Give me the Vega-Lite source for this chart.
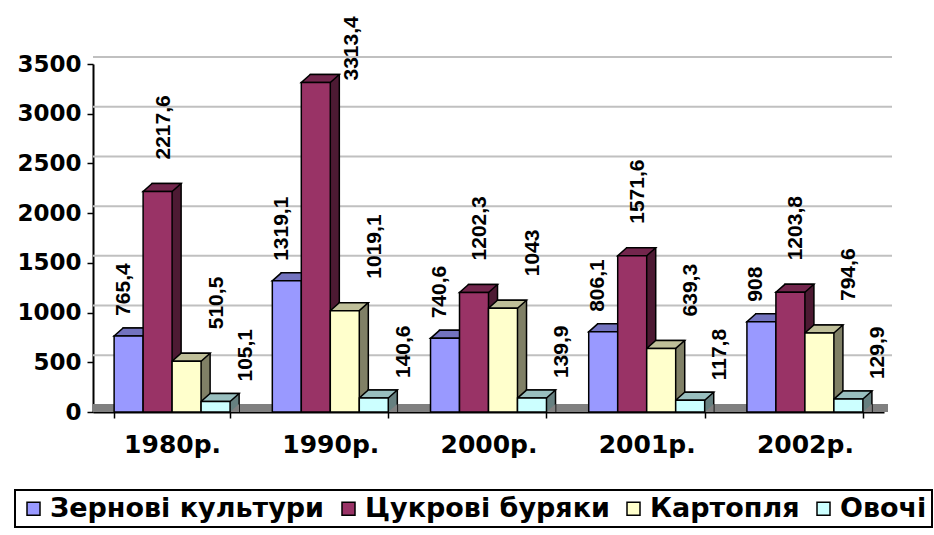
{
  "$schema": "https://vega.github.io/schema/vega-lite/v6.json",
  "width": 791,
  "height": 348,
  "autosize": {"type": "none"},
  "padding": {"left": 93, "top": 64, "right": 50, "bottom": 123},
  "background": "white",
  "config": {
    "view": {"stroke": null},
    "locale": {"number": {"decimal": ",", "thousands": "", "grouping": [3], "currency": ["", ""]}},
    "axis": {"grid": false, "title": null, "labelColor": "black", "tickColor": "black", "tickWidth": 1.5, "tickSize": 6, "domainColor": "black", "domainWidth": 2, "labelFont": "DejaVu Sans", "labelFontWeight": "bold"},
    "axisX": {"labelAngle": 0, "labelFontSize": 25, "tickBand": "extent", "labelPadding": 14},
    "axisY": {"labelFontSize": 23, "labelPadding": 6, "tickCount": 8},
    "legend": {
      "orient": "none", "legendX": -78, "legendY": 426, "direction": "horizontal", "columns": 4,
      "strokeColor": "black", "strokeWidth": 2, "padding": 5, "fillColor": "white",
      "labelFont": "DejaVu Sans", "labelFontWeight": "bold", "labelFontSize": 27, "labelColor": "black",
      "symbolType": "square", "symbolSize": 169, "symbolStrokeColor": "black", "symbolStrokeWidth": 1.5,
      "labelOffset": 3, "columnPadding": 10, "title": null, "labelLimit": 400
    }
  },
  "datasets": {
    "d": [
      {"year": "1980р.", "crop": "Зернові культури", "v": 765.4},
      {"year": "1980р.", "crop": "Цукрові буряки", "v": 2217.6},
      {"year": "1980р.", "crop": "Картопля", "v": 510.5},
      {"year": "1980р.", "crop": "Овочі", "v": 105.1},
      {"year": "1990р.", "crop": "Зернові культури", "v": 1319.1},
      {"year": "1990р.", "crop": "Цукрові буряки", "v": 3313.4},
      {"year": "1990р.", "crop": "Картопля", "v": 1019.1},
      {"year": "1990р.", "crop": "Овочі", "v": 140.6},
      {"year": "2000р.", "crop": "Зернові культури", "v": 740.6},
      {"year": "2000р.", "crop": "Цукрові буряки", "v": 1202.3},
      {"year": "2000р.", "crop": "Картопля", "v": 1043},
      {"year": "2000р.", "crop": "Овочі", "v": 139.9},
      {"year": "2001р.", "crop": "Зернові культури", "v": 806.1},
      {"year": "2001р.", "crop": "Цукрові буряки", "v": 1571.6},
      {"year": "2001р.", "crop": "Картопля", "v": 639.3},
      {"year": "2001р.", "crop": "Овочі", "v": 117.8},
      {"year": "2002р.", "crop": "Зернові культури", "v": 908},
      {"year": "2002р.", "crop": "Цукрові буряки", "v": 1203.8},
      {"year": "2002р.", "crop": "Картопля", "v": 794.6},
      {"year": "2002р.", "crop": "Овочі", "v": 129.9}
    ],
    "grid": [{"g": 500}, {"g": 1000}, {"g": 1500}, {"g": 2000}, {"g": 2500}, {"g": 3000}, {"g": 3500}],
    "floor": [{"g": 0}]
  },
  "layer": [
    {
      "data": {"name": "grid"},
      "mark": {"type": "rule", "color": "#c0c0c0", "strokeWidth": 2, "yOffset": -7, "xOffset": 8, "x2Offset": 8},
      "encoding": {"y": {"field": "g", "type": "quantitative", "title": null, "scale": {"domain": [0, 3500], "nice": false}}}
    },
    {
      "data": {"name": "floor"},
      "mark": {"type": "rule", "color": "#808080", "strokeWidth": 8, "yOffset": -4, "xOffset": 4, "x2Offset": 4},
      "encoding": {"y": {"field": "g", "type": "quantitative", "title": null, "scale": {"domain": [0, 3500], "nice": false}}}
    },
    {
      "data": {"name": "d"},
      "mark": {"type": "bar", "yOffset": -8, "y2Offset": 0, "stroke": "black", "strokeWidth": 1.5},
      "encoding": {
        "x": {"field": "year", "type": "nominal", "sort": null, "title": null, "scale": {"paddingInner": 0.267, "paddingOuter": 0.1335}},
        "xOffset": {"field": "crop", "type": "nominal", "sort": null, "scale": {"domain": ["Зернові культури", "Цукрові буряки", "Картопля", "Овочі"], "range": [9, 125]}},
        "y": {"field": "v", "type": "quantitative", "title": null, "stack": null, "scale": {"domain": [0, 3500], "nice": false}},
        "fill": {"field": "crop", "type": "nominal", "scale": {"domain": ["Зернові культури", "Цукрові буряки", "Картопля", "Овочі"], "range": ["#4d4d80", "#4d1a33", "#808066", "#668080"]}, "legend": null}
      }
    },
    {
      "data": {"name": "d"},
      "mark": {"type": "point", "filled": true, "opacity": 1, "shape": "M 0.979 -0.333 L 0.979 0 L 0.604 0 Z", "size": 2304, "fill": "#808080", "strokeWidth": 0},
      "encoding": {
        "x": {"field": "year", "type": "nominal", "sort": null, "title": null},
        "xOffset": {"field": "crop", "type": "nominal", "sort": null, "scale": {"domain": ["Зернові культури", "Цукрові буряки", "Картопля", "Овочі"]}},
        "y": {"datum": 0, "type": "quantitative", "title": null, "scale": {"domain": [0, 3500], "nice": false}}
      }
    },
    {
      "data": {"name": "d"},
      "mark": {"type": "point", "filled": true, "opacity": 1, "shape": "M -0.604 0 L 0.604 0 L 0.979 -0.333 L -0.229 -0.333 Z", "size": 2304, "stroke": "black", "strokeWidth": 1.5},
      "encoding": {
        "x": {"field": "year", "type": "nominal", "sort": null, "title": null},
        "xOffset": {"field": "crop", "type": "nominal", "sort": null, "scale": {"domain": ["Зернові культури", "Цукрові буряки", "Картопля", "Овочі"]}},
        "y": {"field": "v", "type": "quantitative", "title": null, "stack": null, "scale": {"domain": [0, 3500], "nice": false}},
        "fill": {"field": "crop", "type": "nominal", "scale": {"domain": ["Зернові культури", "Цукрові буряки", "Картопля", "Овочі"], "range": ["#7373bf", "#73264d", "#bfbf99", "#99bfbf"]}, "legend": null}
      }
    },
    {
      "data": {"name": "d"},
      "mark": {"type": "bar", "stroke": "black", "strokeWidth": 1.5},
      "encoding": {
        "x": {"field": "year", "type": "nominal", "sort": null, "title": null},
        "xOffset": {"field": "crop", "type": "nominal", "sort": null, "scale": {"domain": ["Зернові культури", "Цукрові буряки", "Картопля", "Овочі"]}},
        "y": {"field": "v", "type": "quantitative", "title": null, "stack": null, "scale": {"domain": [0, 3500], "nice": false}},
        "fill": {"field": "crop", "type": "nominal", "sort": null, "scale": {"domain": ["Зернові культури", "Цукрові буряки", "Картопля", "Овочі"], "range": ["#9999ff", "#993366", "#ffffcc", "#ccffff"]}}
      }
    },
    {
      "data": {"name": "d"},
      "transform": [{"filter": "datum.crop === 'Зернові культури'"}],
      "mark": {"type": "text", "angle": 270, "align": "left", "baseline": "middle", "font": "Liberation Sans", "fontWeight": "bold", "fontSize": 21, "color": "black", "dx": 20, "dy": -5},
      "encoding": {
        "x": {"field": "year", "type": "nominal", "sort": null, "title": null},
        "xOffset": {"field": "crop", "type": "nominal", "sort": null, "scale": {"domain": ["Зернові культури", "Цукрові буряки", "Картопля", "Овочі"]}},
        "y": {"field": "v", "type": "quantitative", "title": null, "stack": null, "scale": {"domain": [0, 3500], "nice": false}},
        "text": {"field": "v", "type": "quantitative", "format": ".1~f"}
      }
    },
    {
      "data": {"name": "d"},
      "transform": [{"filter": "datum.crop === 'Цукрові буряки' && datum.v < 3000"}],
      "mark": {"type": "text", "angle": 270, "align": "left", "baseline": "middle", "font": "Liberation Sans", "fontWeight": "bold", "fontSize": 21, "color": "black", "dx": 32, "dy": 6},
      "encoding": {
        "x": {"field": "year", "type": "nominal", "sort": null, "title": null},
        "xOffset": {"field": "crop", "type": "nominal", "sort": null, "scale": {"domain": ["Зернові культури", "Цукрові буряки", "Картопля", "Овочі"]}},
        "y": {"field": "v", "type": "quantitative", "title": null, "stack": null, "scale": {"domain": [0, 3500], "nice": false}},
        "text": {"field": "v", "type": "quantitative", "format": ".1~f"}
      }
    },
    {
      "data": {"name": "d"},
      "transform": [{"filter": "datum.crop === 'Цукрові буряки' && datum.v >= 3000"}],
      "mark": {"type": "text", "angle": 270, "align": "left", "baseline": "middle", "font": "Liberation Sans", "fontWeight": "bold", "fontSize": 21, "color": "black", "dx": 2, "dy": 36},
      "encoding": {
        "x": {"field": "year", "type": "nominal", "sort": null, "title": null},
        "xOffset": {"field": "crop", "type": "nominal", "sort": null, "scale": {"domain": ["Зернові культури", "Цукрові буряки", "Картопля", "Овочі"]}},
        "y": {"field": "v", "type": "quantitative", "title": null, "stack": null, "scale": {"domain": [0, 3500], "nice": false}},
        "text": {"field": "v", "type": "quantitative", "format": ".1~f"}
      }
    },
    {
      "data": {"name": "d"},
      "transform": [{"filter": "datum.crop === 'Картопля'"}],
      "mark": {"type": "text", "angle": 270, "align": "left", "baseline": "middle", "font": "Liberation Sans", "fontWeight": "bold", "fontSize": 21, "color": "black", "dx": 32, "dy": 30},
      "encoding": {
        "x": {"field": "year", "type": "nominal", "sort": null, "title": null},
        "xOffset": {"field": "crop", "type": "nominal", "sort": null, "scale": {"domain": ["Зернові культури", "Цукрові буряки", "Картопля", "Овочі"]}},
        "y": {"field": "v", "type": "quantitative", "title": null, "stack": null, "scale": {"domain": [0, 3500], "nice": false}},
        "text": {"field": "v", "type": "quantitative", "format": ".1~f"}
      }
    },
    {
      "data": {"name": "d"},
      "transform": [{"filter": "datum.crop === 'Овочі'"}],
      "mark": {"type": "text", "angle": 270, "align": "left", "baseline": "middle", "font": "Liberation Sans", "fontWeight": "bold", "fontSize": 21, "color": "black", "dx": 20, "dy": 30},
      "encoding": {
        "x": {"field": "year", "type": "nominal", "sort": null, "title": null},
        "xOffset": {"field": "crop", "type": "nominal", "sort": null, "scale": {"domain": ["Зернові культури", "Цукрові буряки", "Картопля", "Овочі"]}},
        "y": {"field": "v", "type": "quantitative", "title": null, "stack": null, "scale": {"domain": [0, 3500], "nice": false}},
        "text": {"field": "v", "type": "quantitative", "format": ".1~f"}
      }
    }
  ],
  "resolve": {"scale": {"xOffset": "independent", "fill": "independent"}}
}
